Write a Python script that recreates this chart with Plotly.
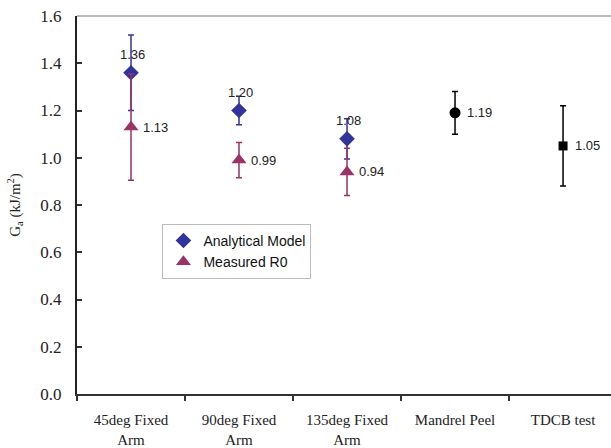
import plotly.graph_objects as go

# Test configurations along the x axis
categories = ["45deg Fixed<br>Arm", "90deg Fixed<br>Arm", "135deg Fixed<br>Arm",
              "Mandrel Peel", "TDCB test"]

# Analytical model predictions and their scatter
analytical = [1.36, 1.20, 1.08]
analytical_err = [0.16, 0.06, 0.085]

# Measured R0 values and their scatter
measured = [1.13, 0.99, 0.94]
measured_err = [0.225, 0.075, 0.10]

# Independent test methods
mandrel = [1.19]
mandrel_err = [0.09]
tdcb = [1.05]
tdcb_err = [0.17]

BLUE = "#33339C"
PLUM = "#993366"
BLACK = "#000000"
LABEL_FONT = dict(family="Arial, Liberation Sans, sans-serif", size=13, color="#222222")
SERIF = "Liberation Serif, Times New Roman, serif"


def fmt(v):
    return f"{v:.2f}"


fig = go.Figure()

fig.add_trace(go.Scatter(
    x=categories[:3], y=analytical, mode="markers", name="Analytical Model",
    marker=dict(symbol="diamond", size=12, color=BLUE),
    error_y=dict(type="data", array=analytical_err, color=BLUE, thickness=1.5, width=3),
))
fig.add_trace(go.Scatter(
    x=categories[:3], y=measured, mode="markers", name="Measured R0",
    marker=dict(symbol="triangle-up", size=13, color=PLUM),
    error_y=dict(type="data", array=measured_err, color=PLUM, thickness=1.5, width=3),
))
fig.add_trace(go.Scatter(
    x=[categories[3]], y=mandrel, mode="markers", showlegend=False,
    marker=dict(symbol="circle", size=11, color=BLACK),
    error_y=dict(type="data", array=mandrel_err, color=BLACK, thickness=1.5, width=3),
))
fig.add_trace(go.Scatter(
    x=[categories[4]], y=tdcb, mode="markers", showlegend=False,
    marker=dict(symbol="square", size=9, color=BLACK),
    error_y=dict(type="data", array=tdcb_err, color=BLACK, thickness=1.5, width=3),
))

# Value labels: analytical above the marker, the rest to the right
annotations = []
for cat, v in zip(categories[:3], analytical):
    annotations.append(dict(x=cat, y=v, text=fmt(v), showarrow=False, yshift=18, xshift=1,
                            font=LABEL_FONT))
right_points = list(zip(categories[:3], measured)) + [(categories[3], mandrel[0]),
                                                      (categories[4], tdcb[0])]
for cat, v in right_points:
    annotations.append(dict(x=cat, y=v, text=fmt(v), showarrow=False, xanchor="left",
                            xshift=10, yshift=0, font=LABEL_FONT))

fig.update_layout(
    width=611, height=448,
    margin=dict(l=77, r=0, t=16, b=54),
    paper_bgcolor="white", plot_bgcolor="white",
    showlegend=True,
    annotations=annotations,
    legend=dict(
        x=0.16, y=0.45, xanchor="left", yanchor="top",
        bgcolor="white", bordercolor="#BBBBBB", borderwidth=1,
        font=dict(family="Arial, Liberation Sans, sans-serif", size=14, color="#111111"),
        itemwidth=30, tracegroupgap=0,
    ),
    xaxis=dict(
        type="category", categoryorder="array", categoryarray=categories,
        range=[-0.5, 4.444], showgrid=False, zeroline=False,
        showline=True, linecolor="#333333", linewidth=2,
        ticks="outside", ticklen=5, tickcolor="#333333", tickwidth=1.5,
        tickson="boundaries",
        ticklabelstandoff=11,
        tickfont=dict(family=SERIF, size=15, color="#222222"),
        fixedrange=True,
    ),
    yaxis=dict(
        range=[0, 1.6], dtick=0.2, tickformat=".1f", showgrid=False, zeroline=False,
        showline=True, linecolor="#222222", linewidth=2,
        ticks="inside", ticklen=5, tickcolor="#333333", tickwidth=1.5,
        tickfont=dict(family=SERIF, size=17, color="#222222"),
        ticklabelstandoff=10,
        title=dict(text="G<sub>a</sub> (kJ/m<sup>2</sup>)", standoff=16,
                   font=dict(family=SERIF, size=15, color="#222222")),
        fixedrange=True,
    ),
    shapes=[dict(type="line", xref="paper", yref="paper", x0=0, x1=1, y0=1, y1=1,
                 line=dict(color="#BBBBBB", width=2))],
)

fig.write_html("out.html")
